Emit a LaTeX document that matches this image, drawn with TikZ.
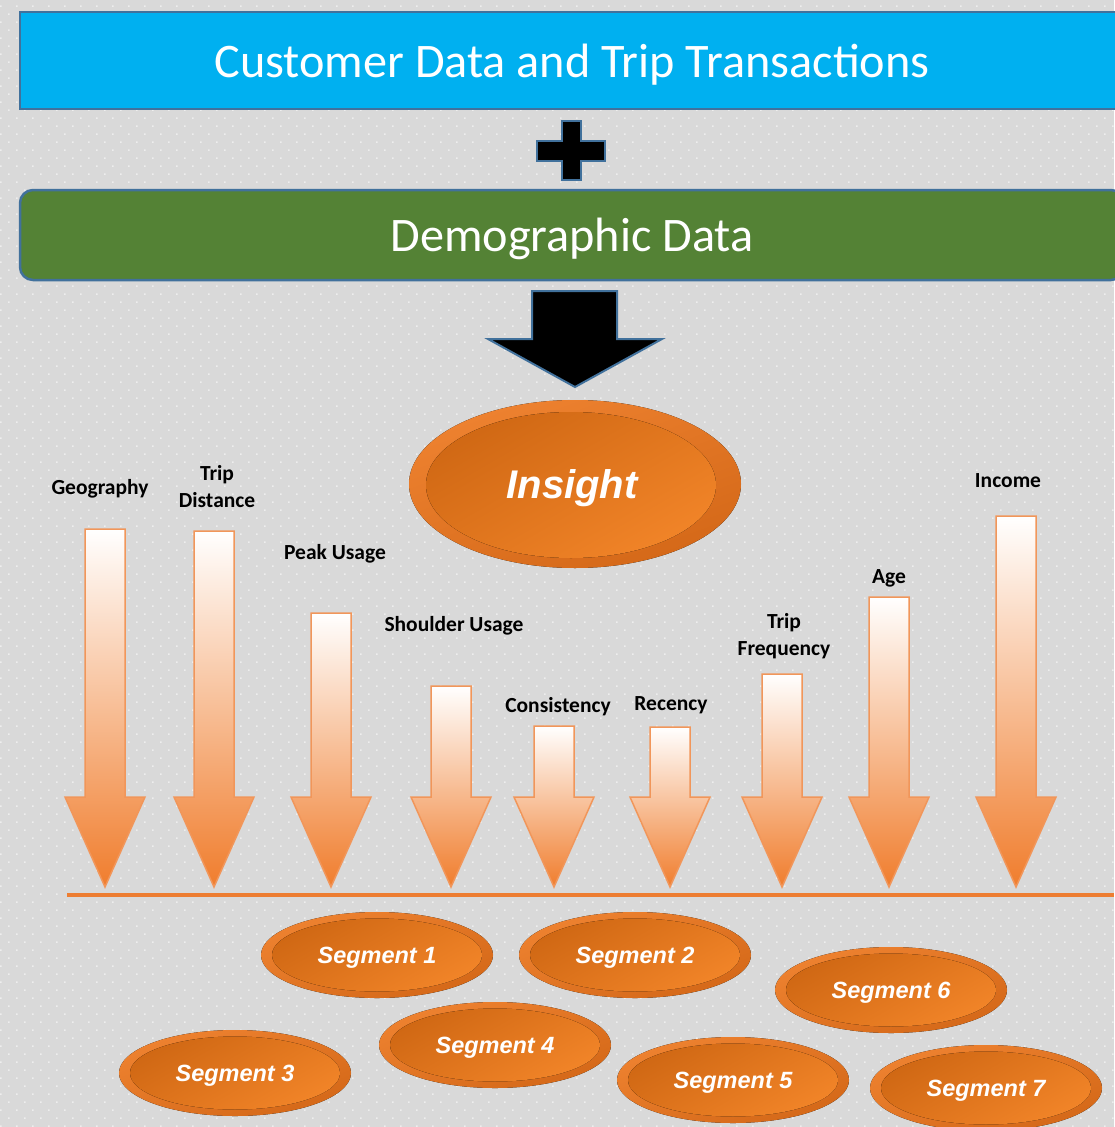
\documentclass[tikz,border=0pt]{standalone}
\usepackage{fontspec}
\setmainfont{Carlito}
\newfontfamily\ovalfont{Liberation Sans}
\usetikzlibrary{shapes.geometric,patterns}

\definecolor{bggray}{RGB}{217,217,217}
\definecolor{dotwhite}{RGB}{238,238,238}
\definecolor{tripblue}{RGB}{0,176,240}
\definecolor{demogreen}{RGB}{84,130,53}
\definecolor{steelrim}{RGB}{65,113,156}
\definecolor{baseorange}{RGB}{237,125,49}
\definecolor{arrowedge}{RGB}{241,150,90}
\definecolor{arrowfoot}{RGB}{240,125,45}
\definecolor{rimlight}{RGB}{238,130,48}
\definecolor{rimdark}{RGB}{212,104,24}
\definecolor{coredark}{RGB}{208,104,20}
\definecolor{corelight}{RGB}{241,132,40}

\pgfdeclarepatternformonly{paperdots}{\pgfqpoint{-1pt}{-1pt}}{\pgfqpoint{17pt}{17pt}}{\pgfqpoint{16pt}{16pt}}{%
  \pgfpathrectangle{\pgfqpoint{0pt}{0pt}}{\pgfqpoint{1.6pt}{1.6pt}}%
  \pgfpathrectangle{\pgfqpoint{8pt}{8pt}}{\pgfqpoint{1.6pt}{1.6pt}}%
  \pgfusepath{fill}}

\begin{document}
\begin{tikzpicture}[x=1pt, y=-1pt,
  databox/.style={rectangle, draw=steelrim, line width=2.5pt, text=white, inner sep=0pt, text depth=0pt,
    minimum width=1104pt, font=\fontsize{48.2}{56}\selectfont},
  outline/.style={draw=steelrim, line width=2pt, fill=black},
  downarrow/.style={draw=arrowedge, line width=1.5pt, top color=white, bottom color=arrowfoot},
  attr/.style={align=center, inner sep=0pt, font=\fontsize{21.5}{27}\selectfont\bfseries},
  ovalrim/.style={top color=rimlight, bottom color=rimdark, shading angle=20},
  ovalcore/.style={top color=coredark, bottom color=corelight, shading angle=30},
  ovaltext/.style={text=white, inner sep=0pt, text depth=0pt, font=\ovalfont\bfseries\itshape}]

\useasboundingbox (0,0) rectangle (1114,1127);
\fill[bggray] (0,0) rectangle (1114,1127);
\fill[pattern=paperdots, pattern color=dotwhite] (0,0) rectangle (1114,1127);

\node[databox, fill=tripblue, minimum height=97pt] (trips) at (572,60.5) {Customer Data and Trip Transactions};
\draw[outline] (562,121) -- (581,121) -- (581,141) -- (605,141) -- (605,161) -- (581,161) -- (581,180)
  -- (562,180) -- (562,161) -- (537,161) -- (537,141) -- (562,141) -- cycle;
\node[databox, fill=demogreen, rounded corners=13pt, minimum height=90pt] (demo) at (572,235) {Demographic Data};
\draw[outline] (532,291) -- (617,291) -- (617,339) -- (662,339) -- (575,387) -- (488,339) -- (532,339) -- cycle;

\fill[ovalrim] (575,484) ellipse [x radius=166, y radius=84];
\fill[ovalcore] (571,485) ellipse [x radius=145, y radius=73];
\node[ovaltext, font=\ovalfont\bfseries\itshape\fontsize{40}{48}\selectfont] (insight) at (572,484) {Insight};

\foreach \cx/\ty/\id/\lx/\ly/\txt in {105/529/geo/100/489/Geography, 214/531/dist/217/487/{Trip\\Distance},
    331/613/peak/335/554/Peak Usage, 451/686/shoulder/454/626/Shoulder Usage, 554/726/consist/558/707/Consistency,
    670/727/recency/671/705/Recency, 782/674/freq/784/636/{Trip\\Frequency}, 889/597/age/889/578/Age,
    1016/516/income/1008/481/Income}
{
  \path[downarrow] (\cx-20,\ty) -- (\cx+20,\ty) -- (\cx+20,797) -- (\cx+40,797) -- (\cx,887)
    -- (\cx-40,797) -- (\cx-20,797) -- cycle;
  \node[attr] (\id) at (\lx,\ly) {\txt};
}

\draw[baseorange, line width=4pt] (67,895) -- (1114,895);

\foreach \n/\sx/\sy in {1/377/955, 2/635/955, 6/891/990, 3/235/1073, 4/495/1045, 5/733/1080, 7/986/1088}
{
  \fill[ovalrim] (\sx,\sy) ellipse [x radius=116, y radius=43];
  \fill[ovalcore] (\sx,\sy) ellipse [x radius=105, y radius=36.5];
  \node[ovaltext, font=\ovalfont\bfseries\itshape\fontsize{23.5}{28}\selectfont] (seg\n) at (\sx,\sy) {Segment \n};
}
\end{tikzpicture}
\end{document}
